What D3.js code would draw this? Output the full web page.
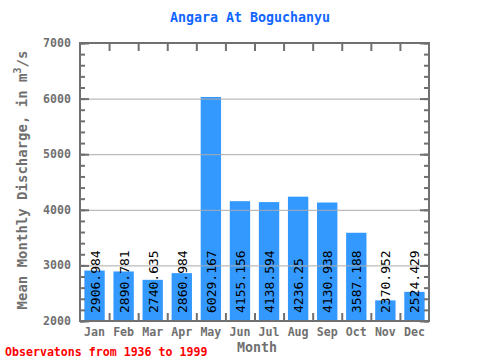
<!DOCTYPE html>
<html><head><meta charset="utf-8">
<script src="https://cdn.jsdelivr.net/npm/d3@7"></script>
<style>body{margin:0;background:#fff}svg{display:block}</style>
</head><body><svg id="c" width="480" height="360"></svg>
<script>
const months = ["Jan","Feb","Mar","Apr","May","Jun","Jul","Aug","Sep","Oct","Nov","Dec"];
const discharge = [2906.984,2890.781,2740.635,2860.984,6029.167,4155.156,4138.594,4236.25,4130.938,3587.188,2370.952,2524.429];
const valueLabels = ["2906.984","2890.781","2740.635","2860.984","6029.167","4155.156","4138.594","4236.25","4130.938","3587.188","2370.952","2524.429"];
const yTicks = [2000,3000,4000,5000,6000,7000];
const title = "Angara At Boguchanyu";
const xTitle = "Month";
const note = "Observatons from 1936 to 1999";

const font = "'DejaVu Sans Mono', 'Liberation Mono', monospace";
const axisCol = "#707070";
const svg = d3.select("#c");
const L=80, R=429, T=43, B=321;
const x = d3.scaleBand().domain(months).range([L,R]).paddingInner(0.3).paddingOuter(0.15);
const xb = d3.scaleLinear().domain([0,12]).range([L,R]);
const y = d3.scaleLinear().domain([2000,7000]).range([B,T]);

// bars
svg.append("g").selectAll("rect").data(discharge).join("rect")
  .attr("x",(d,i)=>x(months[i])).attr("width",x.bandwidth())
  .attr("y",d=>y(d)).attr("height",d=>B-y(d)).attr("fill","#3399ff");

// gridlines
svg.append("g").selectAll("line").data(yTicks.filter(v=>v>2000&&v<7000)).join("line")
  .attr("x1",L).attr("x2",R).attr("y1",d=>y(d)+0.5).attr("y2",d=>y(d)+0.5)
  .attr("stroke","#aaaaaa").attr("stroke-width",1);

// value labels
svg.append("g").selectAll("text").data(valueLabels).join("text")
  .attr("transform",(d,i)=>`translate(${x(months[i])+x.bandwidth()/2+5},313) rotate(-90)`)
  .attr("font-family",font).attr("font-size",13).attr("fill","#000").text(d=>d);

// left axis
const minor = d3.range(2000,7001,200);
function vAxis(pos, gen, vals, size){
  const g = svg.append("g").attr("transform",`translate(${pos},0)`)
    .call(gen(y).tickValues(vals).tickSize(size).tickFormat(""));
  g.selectAll("line").attr("stroke",axisCol).attr("stroke-width",2);
  g.select(".domain").remove();
}
vAxis(L, d3.axisRight, minor, 5);
vAxis(L, d3.axisRight, yTicks, 9);
vAxis(R, d3.axisLeft, minor, 5);
vAxis(R, d3.axisLeft, yTicks, 9);
// y labels
svg.append("g").selectAll("text").data(yTicks).join("text")
  .attr("x",71).attr("y",d=>y(d)+4).attr("text-anchor","end")
  .attr("font-family",font).attr("font-size",11.6).attr("font-weight","bold")
  .attr("fill",axisCol).text(d=>d);

// x ticks at band boundaries
const bounds = d3.range(1,12);
const gb = svg.append("g").attr("transform",`translate(0,${B})`)
  .call(d3.axisTop(xb).tickValues(bounds).tickSize(8).tickFormat(""));
gb.selectAll("line").attr("stroke",axisCol).attr("stroke-width",2);
gb.select(".domain").remove();
const gt = svg.append("g").attr("transform",`translate(0,${T})`)
  .call(d3.axisBottom(xb).tickValues(bounds).tickSize(8).tickFormat(""));
gt.selectAll("line").attr("stroke",axisCol).attr("stroke-width",2);
gt.select(".domain").remove();

// frame
svg.append("rect").attr("x",L).attr("y",T).attr("width",R-L).attr("height",B-T)
  .attr("fill","none").attr("stroke",axisCol).attr("stroke-width",2);

// month labels
svg.append("g").selectAll("text").data(months).join("text")
  .attr("x",d=>x(d)+x.bandwidth()/2).attr("y",336).attr("text-anchor","middle")
  .attr("font-family",font).attr("font-size",11.6).attr("font-weight","bold")
  .attr("fill",axisCol).text(d=>d);

// titles
svg.append("text").attr("x",250).attr("y",22).attr("text-anchor","middle")
  .attr("font-family",font).attr("font-size",13.3).attr("font-weight","bold")
  .attr("fill","#1166ff").text(title);
svg.append("text").attr("x",257).attr("y",352).attr("text-anchor","middle")
  .attr("font-family",font).attr("font-size",13.3).attr("font-weight","bold")
  .attr("fill",axisCol).text(xTitle);
const yt = svg.append("text").attr("transform",`translate(27,${(T+B)/2-2}) rotate(-90)`)
  .attr("text-anchor","middle").attr("font-family",font).attr("font-size",14)
  .attr("font-weight","bold").attr("fill",axisCol);
yt.append("tspan").text("Mean Monthly Discharge, in  m");
yt.append("tspan").attr("dy",-6).attr("font-size",10).text("3");
yt.append("tspan").attr("dy",6).text("/s");
svg.append("text").attr("x",5).attr("y",356)
  .attr("font-family",font).attr("font-size",11.6).attr("font-weight","bold")
  .attr("fill","#ff0000").text(note);
</script></body></html>
